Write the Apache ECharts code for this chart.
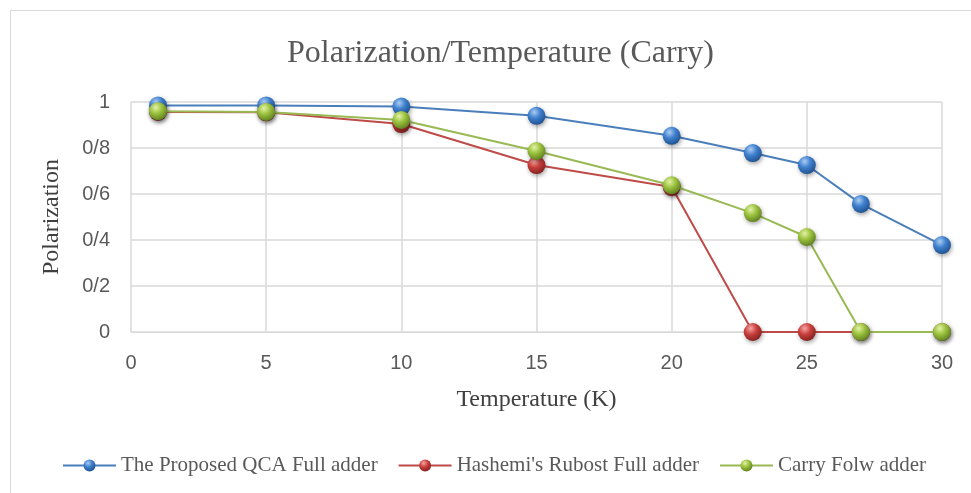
<!DOCTYPE html>
<html>
<head>
<meta charset="utf-8">
<script src="https://cdn.jsdelivr.net/npm/echarts@6/dist/echarts.min.js"></script>
<style>
  html, body { margin: 0; padding: 0; background: #fff; }
  .chart-wrapper {
    position: absolute;
    left: 10px;
    top: 10px;
    width: 975px;
    height: 500px;
    border: 1px solid #d9d9d9;
    box-sizing: border-box;
  }
  #chart {
    position: absolute;
    left: 0;
    top: 0;
    width: 971px;
    height: 493px;
  }
</style>
</head>
<body>
<div class="chart-wrapper"></div>
<div id="chart"></div>
<script>
const temperatures = [1, 5, 10, 15, 20, 23, 25, 27, 30];
const proposedQca = [0.985, 0.985, 0.98, 0.94, 0.853, 0.778, 0.726, 0.557, 0.378];
const hashemiRobust = [0.957, 0.955, 0.904, 0.726, 0.63, 0, 0, 0, 0];
const carryFlow = [0.96, 0.957, 0.922, 0.787, 0.638, 0.517, 0.413, 0, 0];
const seriesNames = [
  "The Proposed QCA Full adder",
  "Hashemi's Rubost Full adder",
  "Carry Folw adder",
];
const yTickLabels = { 0: "0", 0.2: "0/2", 0.4: "0/4", 0.6: "0/6", 0.8: "0/8", 1: "1" };

const serif = "'Liberation Serif', 'DejaVu Serif', serif";
const sans = "'Liberation Sans', 'Open Sans', sans-serif";

const sphere = (light, mid, dark) =>
  new echarts.graphic.RadialGradient(0.38, 0.3, 0.75, [
    { offset: 0, color: light },
    { offset: 0.45, color: mid },
    { offset: 1, color: dark },
  ]);

const styles = [
  { line: "#4a7ebb", ball: sphere("#a9cdf5", "#3f7fcc", "#1d4f8c") },
  { line: "#be4b48", ball: sphere("#f5a7a5", "#c9403c", "#7e1f1c") },
  { line: "#98b954", ball: sphere("#e3f2a6", "#9bc23e", "#5b7a1d") },
];

const pair = (ys) => temperatures.map((t, i) => [t, ys[i]]);
const allSeries = [proposedQca, hashemiRobust, carryFlow];

const chart = echarts.init(document.getElementById("chart"));
chart.setOption({
  animation: false,
  title: {
    text: "Polarization/Temperature (Carry)",
    left: 282,
    top: 33,
    textStyle: { fontFamily: serif, fontSize: 32, fontWeight: "normal", color: "#595959" },
  },
  legend: {
    top: 450,
    left: 57,
    itemWidth: 53,
    itemHeight: 15,
    itemGap: 20,
    textStyle: { fontFamily: serif, fontSize: 21, color: "#595959" },
    data: seriesNames,
  },
  grid: { left: 131, right: 29, top: 102, bottom: 161 },
  xAxis: {
    type: "value",
    min: 0,
    max: 30,
    interval: 5,
    name: "Temperature (K)",
    nameLocation: "middle",
    nameGap: 56,
    nameTextStyle: { fontFamily: serif, fontSize: 24, color: "#404040" },
    axisLine: { lineStyle: { color: "#d9d9d9" } },
    axisTick: { show: false },
    axisLabel: { fontFamily: sans, fontSize: 20, color: "#595959", margin: 21 },
    splitLine: { show: true, lineStyle: { color: "#d9d9d9", width: 1.5 } },
  },
  yAxis: {
    type: "value",
    min: 0,
    max: 1,
    interval: 0.2,
    name: "Polarization",
    nameLocation: "middle",
    nameGap: 67,
    nameTextStyle: { fontFamily: serif, fontSize: 24, color: "#404040" },
    axisLine: { show: false },
    axisTick: { show: false },
    axisLabel: {
      fontFamily: sans,
      fontSize: 20,
      color: "#595959",
      margin: 21,
      formatter: (v) => yTickLabels[Math.round(v * 10) / 10] ?? String(v),
    },
    splitLine: { lineStyle: { color: "#d9d9d9", width: 1.5 } },
  },
  series: allSeries.map((ys, i) => ({
    name: seriesNames[i],
    type: "line",
    data: pair(ys),
    symbol: "circle",
    symbolSize: 18,
    z: 2 + i,
    lineStyle: { color: styles[i].line, width: 2 },
    itemStyle: {
      color: styles[i].ball,
      borderWidth: 0,
      shadowColor: "rgba(0,0,0,0.35)",
      shadowBlur: 4,
      shadowOffsetX: 1,
      shadowOffsetY: 2,
    },
  })),
});
</script>
</body>
</html>
